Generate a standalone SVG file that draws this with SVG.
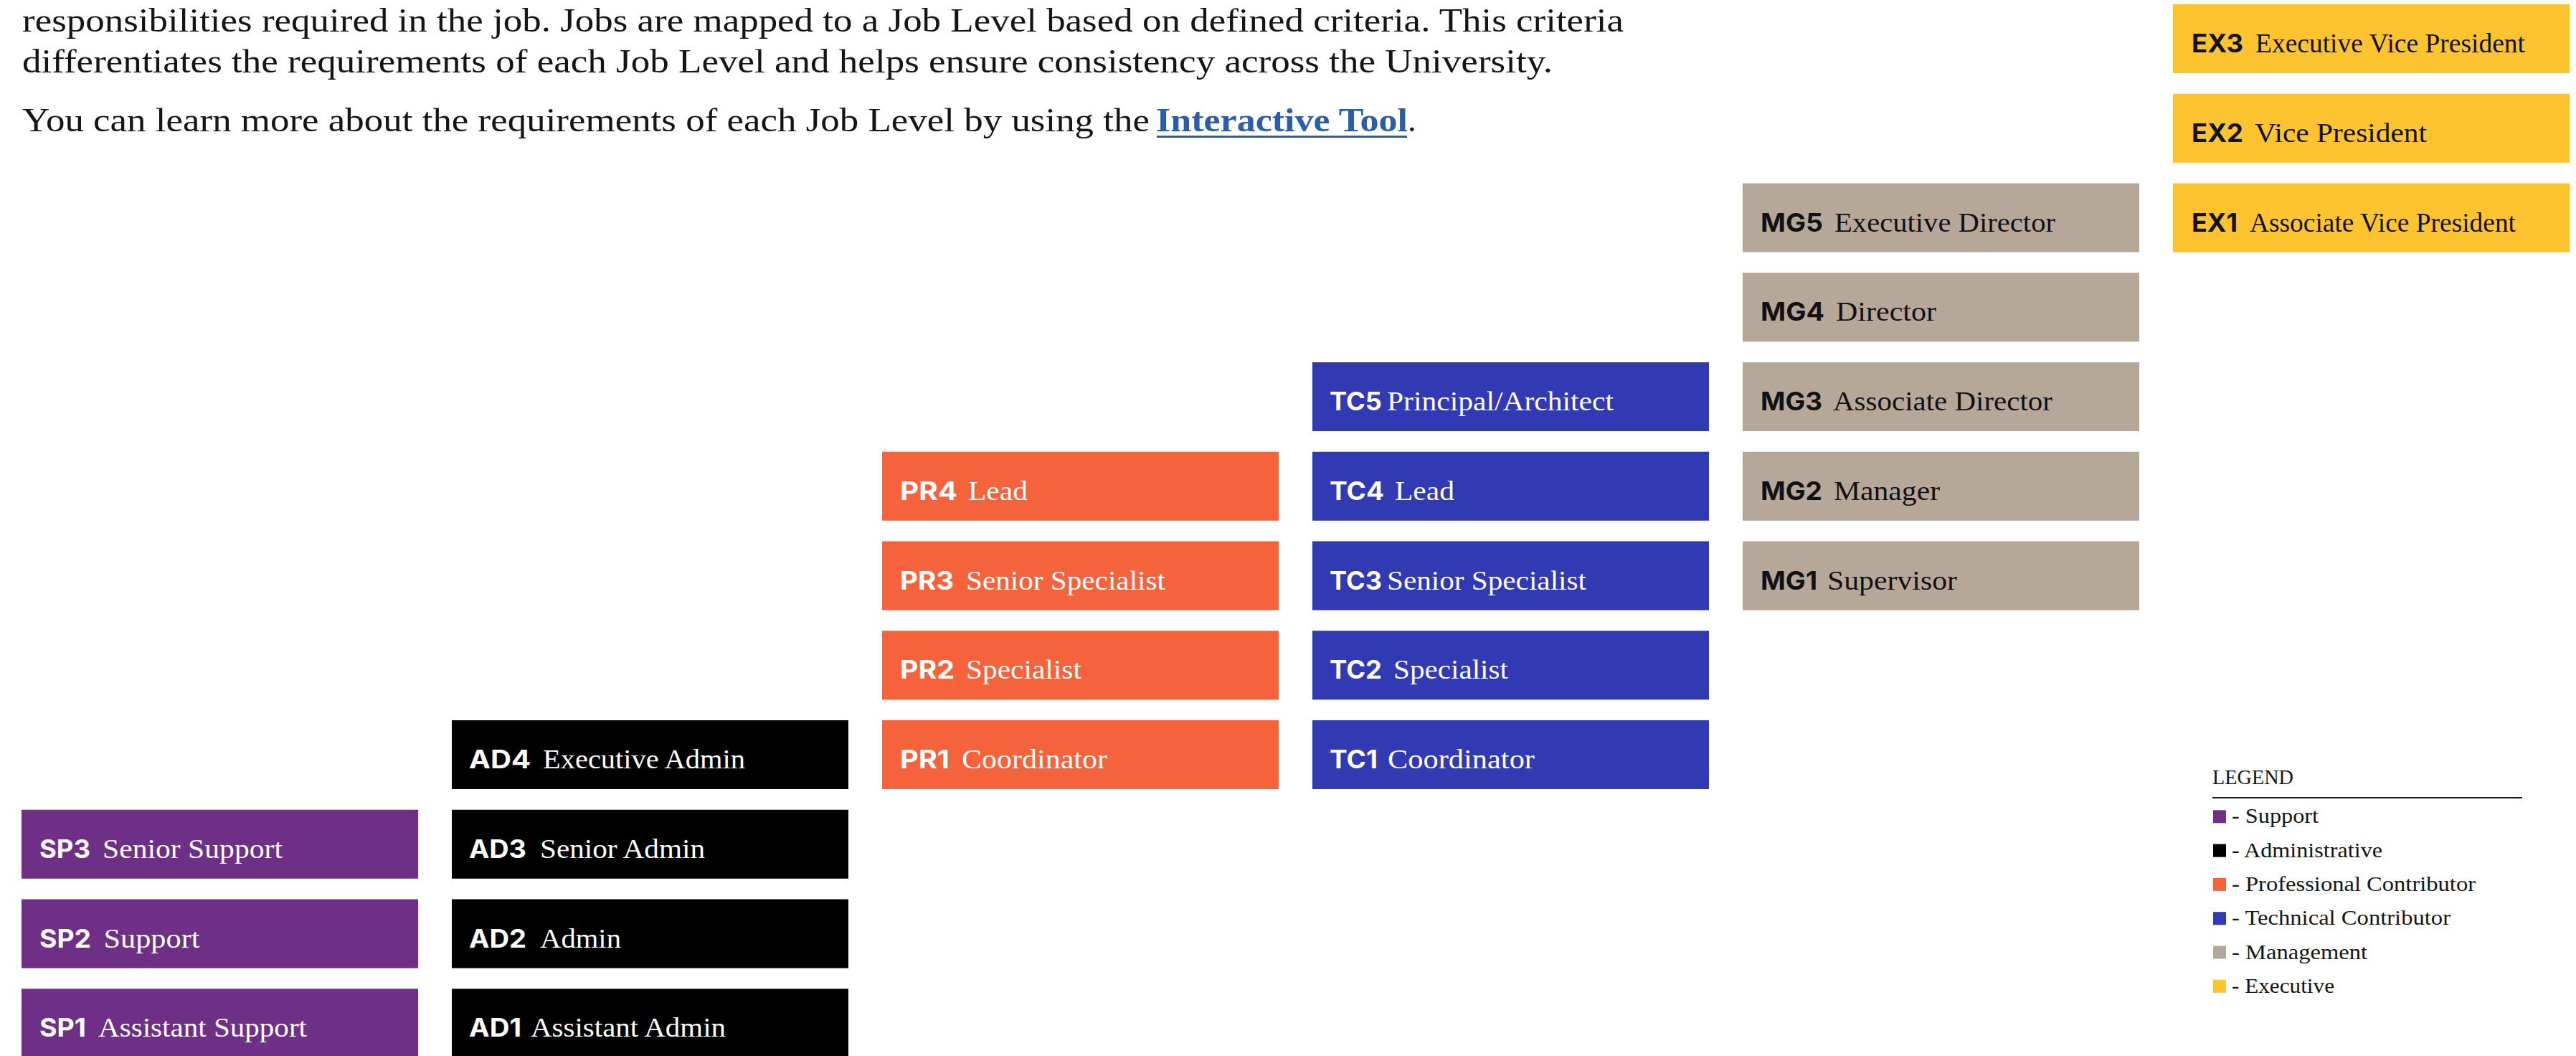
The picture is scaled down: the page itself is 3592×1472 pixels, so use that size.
<svg xmlns="http://www.w3.org/2000/svg" width="3592" height="1472" viewBox="0 0 3592 1472">
  <style>
    .intro { font-family: "Liberation Serif", "Times New Roman", serif; font-size: 46px; fill: #151515; }
    .link { font-family: "Liberation Serif", "Times New Roman", serif; font-size: 46px; font-weight: 700; fill: #2b5ea7; }
    .code { font-family: Inter, "Liberation Sans", Arial, sans-serif; font-size: 35px; font-weight: 700; }
    .lbl { font-family: "Liberation Serif", "Times New Roman", serif; font-size: 38px; }
    .lt { fill: #ffffff; }
    .dk { fill: #111111; }
    .sp { fill: #6e2f87; }
    .ad { fill: #000000; }
    .pr { fill: #f4633c; }
    .tc { fill: #3139b3; }
    .mg { fill: #b6a898; }
    .ex { fill: #fdc430; }
    .leg { font-family: "Liberation Serif", "Times New Roman", serif; font-size: 29px; fill: #151515; }
  </style>

  <!-- Introductory paragraph -->
  <g id="intro">
    <text class="intro" x="31" y="44" textLength="2233" lengthAdjust="spacingAndGlyphs">responsibilities required in the job. Jobs are mapped to a Job Level based on defined criteria. This criteria</text>
    <text class="intro" x="31" y="101" textLength="2134" lengthAdjust="spacingAndGlyphs">differentiates the requirements of each Job Level and helps ensure consistency across the University.</text>
    <text class="intro" x="31" y="183" textLength="1572" lengthAdjust="spacingAndGlyphs">You can learn more about the requirements of each Job Level by using the</text>
    <text class="link" x="1612" y="183" textLength="351" lengthAdjust="spacingAndGlyphs">Interactive Tool</text>
    <rect x="1613" y="189" width="349" height="3" fill="#2b5ea7"/>
    <text class="intro" x="1963" y="183">.</text>
  </g>

  <!-- Support -->
  <g id="sp3"><rect class="sp" x="30" y="1128.75" width="553" height="96"/>
    <text class="code lt" x="55" y="1195.75" textLength="71" lengthAdjust="spacingAndGlyphs">SP3</text>
    <text class="lbl lt" x="143" y="1195.75" textLength="251" lengthAdjust="spacingAndGlyphs">Senior Support</text></g>
  <g id="sp2"><rect class="sp" x="30" y="1253.5" width="553" height="96"/>
    <text class="code lt" x="55" y="1320.5" textLength="72" lengthAdjust="spacingAndGlyphs">SP2</text>
    <text class="lbl lt" x="144.5" y="1320.5" textLength="134" lengthAdjust="spacingAndGlyphs">Support</text></g>
  <g id="sp1"><rect class="sp" x="30" y="1378.25" width="553" height="96"/>
    <text class="code lt" x="55" y="1445.25" textLength="65" lengthAdjust="spacingAndGlyphs">SP1</text>
    <text class="lbl lt" x="137" y="1445.25" textLength="291" lengthAdjust="spacingAndGlyphs">Assistant Support</text></g>

  <!-- Administrative -->
  <g id="ad4"><rect class="ad" x="630" y="1004" width="553" height="96"/>
    <text class="code lt" x="654" y="1071" textLength="86" lengthAdjust="spacingAndGlyphs">AD4</text>
    <text class="lbl lt" x="757" y="1071" textLength="282" lengthAdjust="spacingAndGlyphs">Executive Admin</text></g>
  <g id="ad3"><rect class="ad" x="630" y="1128.75" width="553" height="96"/>
    <text class="code lt" x="654" y="1195.75" textLength="80" lengthAdjust="spacingAndGlyphs">AD3</text>
    <text class="lbl lt" x="753" y="1195.75" textLength="230" lengthAdjust="spacingAndGlyphs">Senior Admin</text></g>
  <g id="ad2"><rect class="ad" x="630" y="1253.5" width="553" height="96"/>
    <text class="code lt" x="654" y="1320.5" textLength="80" lengthAdjust="spacingAndGlyphs">AD2</text>
    <text class="lbl lt" x="753" y="1320.5" textLength="113" lengthAdjust="spacingAndGlyphs">Admin</text></g>
  <g id="ad1"><rect class="ad" x="630" y="1378.25" width="553" height="96"/>
    <text class="code lt" x="654" y="1445.25" textLength="73" lengthAdjust="spacingAndGlyphs">AD1</text>
    <text class="lbl lt" x="740" y="1445.25" textLength="272" lengthAdjust="spacingAndGlyphs">Assistant Admin</text></g>

  <!-- Professional Contributor -->
  <g id="pr4"><rect class="pr" x="1230" y="629.75" width="553" height="96"/>
    <text class="code lt" x="1255" y="696.75" textLength="80" lengthAdjust="spacingAndGlyphs">PR4</text>
    <text class="lbl lt" x="1350" y="696.75" textLength="83" lengthAdjust="spacingAndGlyphs">Lead</text></g>
  <g id="pr3"><rect class="pr" x="1230" y="754.5" width="553" height="96"/>
    <text class="code lt" x="1255" y="821.5" textLength="75" lengthAdjust="spacingAndGlyphs">PR3</text>
    <text class="lbl lt" x="1347" y="821.5" textLength="278" lengthAdjust="spacingAndGlyphs">Senior Specialist</text></g>
  <g id="pr2"><rect class="pr" x="1230" y="879.25" width="553" height="96"/>
    <text class="code lt" x="1255" y="946.25" textLength="76" lengthAdjust="spacingAndGlyphs">PR2</text>
    <text class="lbl lt" x="1347" y="946.25" textLength="161" lengthAdjust="spacingAndGlyphs">Specialist</text></g>
  <g id="pr1"><rect class="pr" x="1230" y="1004" width="553" height="96"/>
    <text class="code lt" x="1255" y="1071" textLength="69" lengthAdjust="spacingAndGlyphs">PR1</text>
    <text class="lbl lt" x="1341" y="1071" textLength="203" lengthAdjust="spacingAndGlyphs">Coordinator</text></g>

  <!-- Technical Contributor -->
  <g id="tc5"><rect class="tc" x="1830" y="505" width="553" height="96"/>
    <text class="code lt" x="1854" y="572" textLength="73" lengthAdjust="spacingAndGlyphs">TC5</text>
    <text class="lbl lt" x="1934" y="572" textLength="316" lengthAdjust="spacingAndGlyphs">Principal/Architect</text></g>
  <g id="tc4"><rect class="tc" x="1830" y="629.75" width="553" height="96"/>
    <text class="code lt" x="1854" y="696.75" textLength="76" lengthAdjust="spacingAndGlyphs">TC4</text>
    <text class="lbl lt" x="1945" y="696.75" textLength="83" lengthAdjust="spacingAndGlyphs">Lead</text></g>
  <g id="tc3"><rect class="tc" x="1830" y="754.5" width="553" height="96"/>
    <text class="code lt" x="1854" y="821.5" textLength="73" lengthAdjust="spacingAndGlyphs">TC3</text>
    <text class="lbl lt" x="1934" y="821.5" textLength="278" lengthAdjust="spacingAndGlyphs">Senior Specialist</text></g>
  <g id="tc2"><rect class="tc" x="1830" y="879.25" width="553" height="96"/>
    <text class="code lt" x="1854" y="946.25" textLength="73" lengthAdjust="spacingAndGlyphs">TC2</text>
    <text class="lbl lt" x="1943" y="946.25" textLength="160" lengthAdjust="spacingAndGlyphs">Specialist</text></g>
  <g id="tc1"><rect class="tc" x="1830" y="1004" width="553" height="96"/>
    <text class="code lt" x="1854" y="1071" textLength="67" lengthAdjust="spacingAndGlyphs">TC1</text>
    <text class="lbl lt" x="1935" y="1071" textLength="205" lengthAdjust="spacingAndGlyphs">Coordinator</text></g>

  <!-- Management -->
  <g id="mg5"><rect class="mg" x="2430" y="255.5" width="553" height="96"/>
    <text class="code dk" x="2455" y="322.5" textLength="87" lengthAdjust="spacingAndGlyphs">MG5</text>
    <text class="lbl dk" x="2558" y="322.5" textLength="308" lengthAdjust="spacingAndGlyphs">Executive Director</text></g>
  <g id="mg4"><rect class="mg" x="2430" y="380.25" width="553" height="96"/>
    <text class="code dk" x="2455" y="447.25" textLength="89" lengthAdjust="spacingAndGlyphs">MG4</text>
    <text class="lbl dk" x="2560" y="447.25" textLength="140" lengthAdjust="spacingAndGlyphs">Director</text></g>
  <g id="mg3"><rect class="mg" x="2430" y="505" width="553" height="96"/>
    <text class="code dk" x="2455" y="572" textLength="86" lengthAdjust="spacingAndGlyphs">MG3</text>
    <text class="lbl dk" x="2556" y="572" textLength="306" lengthAdjust="spacingAndGlyphs">Associate Director</text></g>
  <g id="mg2"><rect class="mg" x="2430" y="629.75" width="553" height="96"/>
    <text class="code dk" x="2455" y="696.75" textLength="86" lengthAdjust="spacingAndGlyphs">MG2</text>
    <text class="lbl dk" x="2557" y="696.75" textLength="148" lengthAdjust="spacingAndGlyphs">Manager</text></g>
  <g id="mg1"><rect class="mg" x="2430" y="754.5" width="553" height="96"/>
    <text class="code dk" x="2455" y="821.5" textLength="79" lengthAdjust="spacingAndGlyphs">MG1</text>
    <text class="lbl dk" x="2548" y="821.5" textLength="181" lengthAdjust="spacingAndGlyphs">Supervisor</text></g>

  <!-- Executive -->
  <g id="ex3"><rect class="ex" x="3030" y="6" width="553" height="96"/>
    <text class="code dk" x="3056" y="73" textLength="72" lengthAdjust="spacingAndGlyphs">EX3</text>
    <text class="lbl dk" x="3145" y="73" textLength="376" lengthAdjust="spacingAndGlyphs">Executive Vice President</text></g>
  <g id="ex2"><rect class="ex" x="3030" y="130.75" width="553" height="96"/>
    <text class="code dk" x="3056" y="197.75" textLength="72" lengthAdjust="spacingAndGlyphs">EX2</text>
    <text class="lbl dk" x="3144" y="197.75" textLength="240" lengthAdjust="spacingAndGlyphs">Vice President</text></g>
  <g id="ex1"><rect class="ex" x="3030" y="255.5" width="553" height="96"/>
    <text class="code dk" x="3056" y="322.5" textLength="64" lengthAdjust="spacingAndGlyphs">EX1</text>
    <text class="lbl dk" x="3137" y="322.5" textLength="371" lengthAdjust="spacingAndGlyphs">Associate Vice President</text></g>

  <!-- No links between levels -->
  <g id="connectors"/>

  <!-- Legend -->
  <g id="legend">
    <text class="leg" x="3085" y="1093" textLength="113" lengthAdjust="spacingAndGlyphs">LEGEND</text>
    <line x1="3085" y1="1112" x2="3517" y2="1112" stroke="#1a1a1a" stroke-width="2"/>
    <rect class="sp" x="3086" y="1129.3" width="18" height="18"/>
    <text class="leg" x="3112" y="1147.3" textLength="121" lengthAdjust="spacingAndGlyphs">- Support</text>
    <rect class="ad" x="3086" y="1176.6" width="18" height="18"/>
    <text class="leg" x="3112" y="1194.6" textLength="210" lengthAdjust="spacingAndGlyphs">- Administrative</text>
    <rect class="pr" x="3086" y="1223.9" width="18" height="18"/>
    <text class="leg" x="3112" y="1241.9" textLength="340" lengthAdjust="spacingAndGlyphs">- Professional Contributor</text>
    <rect class="tc" x="3086" y="1271.2" width="18" height="18"/>
    <text class="leg" x="3112" y="1289.2" textLength="305" lengthAdjust="spacingAndGlyphs">- Technical Contributor</text>
    <rect class="mg" x="3086" y="1318.5" width="18" height="18"/>
    <text class="leg" x="3112" y="1336.5" textLength="189" lengthAdjust="spacingAndGlyphs">- Management</text>
    <rect class="ex" x="3086" y="1365.8" width="18" height="18"/>
    <text class="leg" x="3112" y="1383.8" textLength="143" lengthAdjust="spacingAndGlyphs">- Executive</text>
  </g>
</svg>
